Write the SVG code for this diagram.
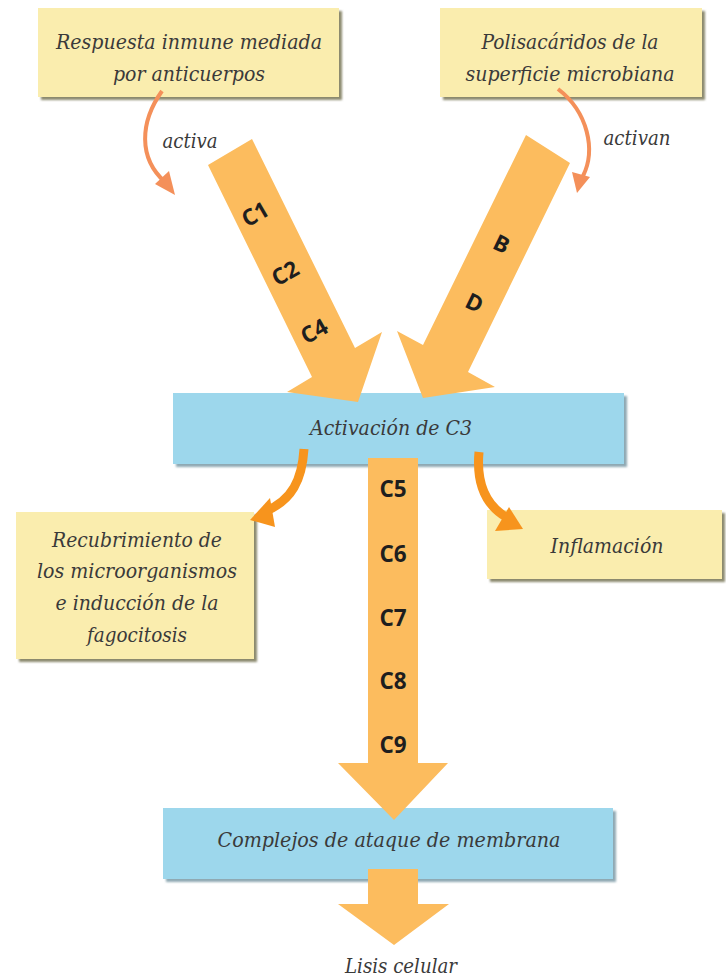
<svg xmlns="http://www.w3.org/2000/svg" width="726" height="979" viewBox="0 0 726 979">
<style>
.ital{font-family:"DejaVu Serif","Liberation Serif",serif;font-style:italic;font-size:19.5px;fill:#3a3a3a;text-anchor:middle}
.lab{font-family:"Open Sans","DejaVu Sans",sans-serif;font-weight:700;font-size:22.5px;fill:#1e1e1e;text-anchor:middle}
.ybox{fill:#FAEDAE}
.bbox{fill:#9DD7EC}
.shadow{fill:#8c8a6e;filter:url(#blur)}
.bshadow{fill:#8fa9b3;filter:url(#blur)}
.big{fill:#FCBC5E}
.thin{fill:none;stroke:#F4905A;stroke-width:4;stroke-linecap:butt}
.thinhead{fill:#F4905A}
.thick{fill:none;stroke:#F7941D;stroke-width:9}
.thickhead{fill:#F7941D}
</style>
<defs>
<filter id="blur" x="-5%" y="-5%" width="110%" height="110%"><feGaussianBlur stdDeviation="1"/></filter>
</defs>
<rect width="726" height="979" fill="#ffffff"/>

<g id="node-respuesta">
<rect class="shadow" x="41" y="11" width="301" height="89"/>
<rect class="ybox" x="38" y="8" width="301" height="89"/>
<text class="ital" x="189" y="49" textLength="266" lengthAdjust="spacingAndGlyphs">Respuesta inmune mediada</text>
<text class="ital" x="189" y="81" textLength="152" lengthAdjust="spacingAndGlyphs">por anticuerpos</text>
</g>

<g id="node-polisacaridos">
<rect class="shadow" x="443" y="11" width="262" height="89"/>
<rect class="ybox" x="440" y="8" width="262" height="89"/>
<text class="ital" x="570" y="49" textLength="177" lengthAdjust="spacingAndGlyphs">Polisacáridos de la</text>
<text class="ital" x="570" y="81" textLength="209" lengthAdjust="spacingAndGlyphs">superficie microbiana</text>
</g>

<g id="node-activacion-c3">
<rect class="bshadow" x="176" y="396" width="451" height="71"/>
<rect class="bbox" x="173" y="393" width="451" height="71"/>
<text class="ital" x="391" y="435" textLength="162" lengthAdjust="spacingAndGlyphs">Activación de C3</text>
</g>

<g id="node-recubrimiento">
<rect class="shadow" x="19" y="515" width="238" height="147"/>
<rect class="ybox" x="16" y="512" width="238" height="147"/>
<text class="ital" x="137" y="547" textLength="170" lengthAdjust="spacingAndGlyphs">Recubrimiento de</text>
<text class="ital" x="137" y="578" textLength="200" lengthAdjust="spacingAndGlyphs">los microorganismos</text>
<text class="ital" x="137" y="610" textLength="163" lengthAdjust="spacingAndGlyphs">e inducción de la</text>
<text class="ital" x="137" y="642" textLength="100" lengthAdjust="spacingAndGlyphs">fagocitosis</text>
</g>

<g id="node-inflamacion">
<rect class="shadow" x="490" y="513" width="235" height="69"/>
<rect class="ybox" x="487" y="510" width="235" height="69"/>
<text class="ital" x="607" y="553" textLength="113" lengthAdjust="spacingAndGlyphs">Inflamación</text>
</g>

<g id="node-complejos">
<rect class="bshadow" x="166" y="811" width="450" height="71"/>
<rect class="bbox" x="163" y="808" width="450" height="71"/>
<text class="ital" x="389" y="847" textLength="343" lengthAdjust="spacingAndGlyphs">Complejos de ataque de membrana</text>
</g>

<g id="node-lisis">
<text class="ital" x="401" y="973" textLength="112" lengthAdjust="spacingAndGlyphs">Lisis celular</text>
</g>

<g id="connectors">
<polygon class="big" points="208,165 252,139 355,348 382,332 358,402 287,392 312,377"/>
<text class="lab" transform="translate(259,221) rotate(-30)">C1</text>
<text class="lab" transform="translate(289,280) rotate(-30)">C2</text>
<text class="lab" transform="translate(318,338) rotate(-30)">C4</text>
<polygon class="big" points="526,135 570,163 468,372 495,387 423,398 397,331 423,345"/>
<text class="lab" transform="translate(498,251) rotate(26)">B</text>
<text class="lab" transform="translate(471,310) rotate(26)">D</text>
<polygon class="big" points="368,458 418,458 418,763 448,763 394,820 338,763 368,763"/>
<text class="lab" x="393" y="497">C5</text>
<text class="lab" x="393" y="562">C6</text>
<text class="lab" x="393" y="626">C7</text>
<text class="lab" x="393" y="689">C8</text>
<text class="lab" x="393" y="753">C9</text>
<polygon class="big" points="368,869 418,869 418,904 449,904 394,945 338,904 368,904"/>
<path class="thin" d="M162,91 C140,122 138,158 165,182"/>
<polygon class="thinhead" points="175,195 155,184 169,171"/>
<text class="ital" x="190" y="148" textLength="55" lengthAdjust="spacingAndGlyphs">activa</text>
<path class="thin" d="M558,89 C588,112 596,150 583,176"/>
<polygon class="thinhead" points="577,193 572,172 590,177"/>
<text class="ital" x="637" y="145" textLength="67" lengthAdjust="spacingAndGlyphs">activan</text>
<path class="thick" d="M304,449 C302,480 292,500 266,511"/>
<polygon class="thickhead" points="250,520 270,498 275,527"/>
<path class="thick" d="M479,452 C476,485 486,505 506,517"/>
<polygon class="thickhead" points="523,529 509,507 495,531"/>
</g>
</svg>
